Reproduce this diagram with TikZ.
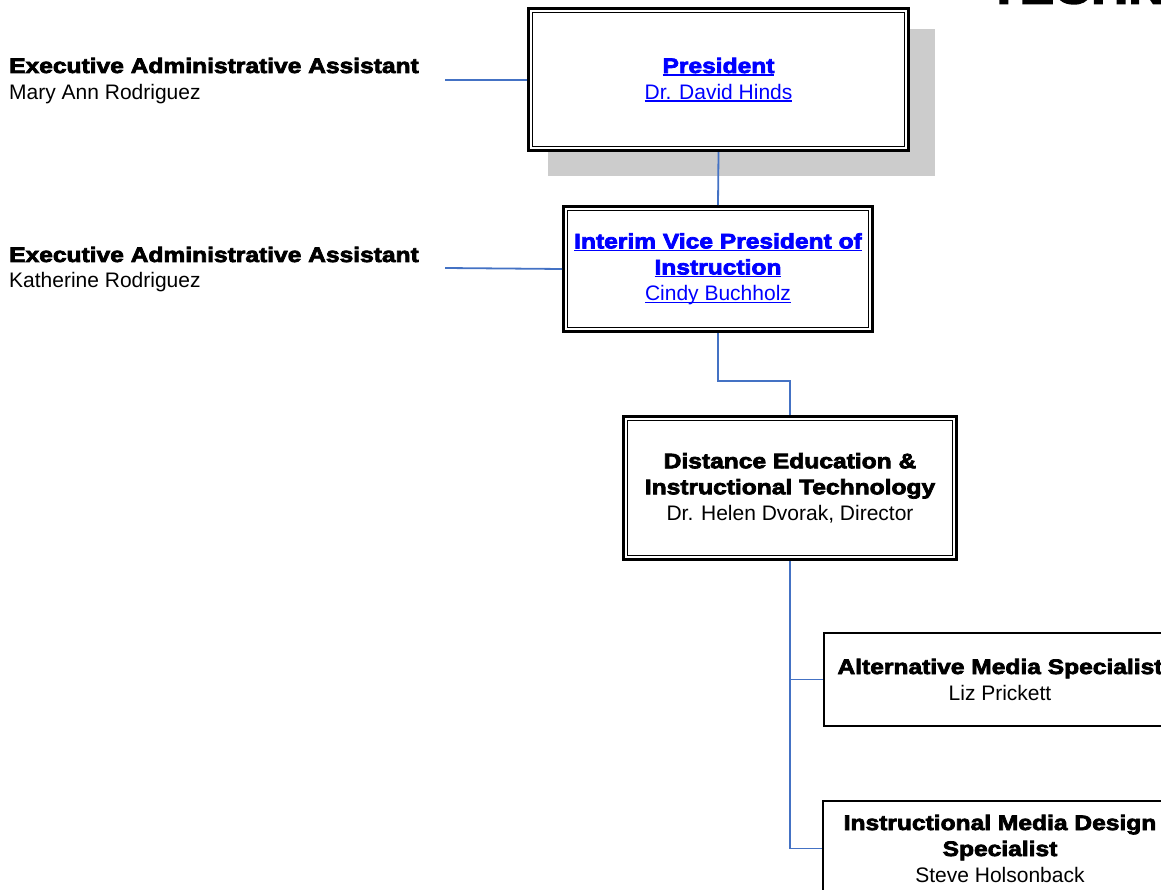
\documentclass[tikz,border=0pt]{standalone}
\usepackage{fontspec}
\setmainfont{Liberation Sans}
\newfontfamily\heavyfont{Liberation Sans}[FakeStretch=1.17,BoldFeatures={FakeBold=3.5}]
\usetikzlibrary{positioning}
\definecolor{linkblue}{RGB}{0,0,255}
\definecolor{linecol}{RGB}{68,114,196}
\definecolor{shadowgray}{RGB}{204,204,204}
\newcommand{\hvy}{\heavyfont\bfseries}
\newcommand{\linkline}[1]{\setbox0\hbox{#1}\rlap{\rule[-2.6pt]{\wd0}{1.3pt}}\box0}
\newcommand{\innerframe}[1]{\draw[inframe] ([shift={(5.5,5.5)}]#1.north west) rectangle ([shift={(-5.5,-5.5)}]#1.south east);}

\begin{document}
\begin{tikzpicture}[x=1pt, y=-1pt,
    every node/.style={font=\fontsize{21}{26}\selectfont, inner sep=0pt},
    conn/.style={linecol, line width=1.8pt},
    dblbox/.style={draw, fill=white, line width=3pt, align=center},
    plainbox/.style={draw, fill=white, line width=1.6pt, align=center},
    inframe/.style={line width=1.3pt}]
  \useasboundingbox (0,0) rectangle (1161,890);
  \clip (0,0) rectangle (1161,890);

  \node[font=\fontsize{44}{50}\selectfont\hvy, anchor=base west] (title) at (988,3.5) {TECHN};

  \fill[shadowgray] (548,29) rectangle (935,176);
  \node[dblbox, text=linkblue, minimum width=380, minimum height=142] (pres) at (718.5,79.7)
    {{\hvy\linkline{President}}\\\linkline{Dr. David Hinds}};
  \innerframe{pres}

  \node[dblbox, text=linkblue, minimum width=309, minimum height=125] (vp) at (718,269)
    {{\hvy\linkline{Interim Vice President of}}\\{\hvy\linkline{Instruction}}\\\linkline{Cindy Buchholz}};
  \innerframe{vp}

  \node[dblbox, minimum width=333, minimum height=143] (dir) at (790,488)
    {{\hvy Distance Education \&}\\{\hvy Instructional Technology}\\Dr. Helen Dvorak, Director};
  \innerframe{dir}

  \node[plainbox, minimum width=352, minimum height=93] (alt) at (1000,679.5)
    {{\hvy Alternative Media Specialist}\\Liz Prickett};
  \node[plainbox, minimum width=354, minimum height=95] (imd) at (1000,848.5)
    {{\hvy Instructional Media Design}\\{\hvy Specialist}\\Steve Holsonback};

  \node[anchor=base west] (hd1) at (9,73) {\hvy Executive Administrative Assistant};
  \node[anchor=base west] (nm1) at (9,100) {Mary Ann Rodriguez};
  \node[anchor=base west] (hd2) at (9,262) {\hvy Executive Administrative Assistant};
  \node[anchor=base west] (nm2) at (9,288) {Katherine Rodriguez};
  \coordinate (c1) at (445,79.7);
  \coordinate (c2) at (445,268);

  \draw[conn] (c1) -- (pres.west);
  \draw[conn] (c2) -- (vp.west);
  \draw[conn] (pres.south) -- (vp.north);
  \draw[conn] (vp.south) -- ++(0,48) -| (dir.north);
  \draw[conn] (dir.south) |- (alt.west);
  \draw[conn] (dir.south) |- (imd.west);
\end{tikzpicture}
\end{document}
